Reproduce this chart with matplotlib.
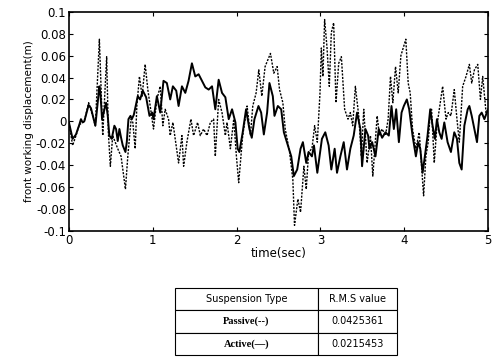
import numpy as np
import matplotlib
matplotlib.use("Agg")
import matplotlib.pyplot as plt

# time (sec) / displacement (m)
t_active = [0.0, 0.044, 0.084, 0.124, 0.143, 0.163, 0.183, 0.235, 0.263, 0.283, 0.315, 0.335,
            0.363, 0.375, 0.395, 0.423, 0.443, 0.463, 0.482, 0.510, 0.542, 0.562, 0.582, 0.602,
            0.622, 0.642, 0.674, 0.690, 0.710, 0.734, 0.750, 0.774, 0.821, 0.849, 0.881, 0.921,
            0.961, 0.993, 1.009, 1.049, 1.089, 1.128, 1.168, 1.208, 1.240, 1.280, 1.308, 1.348,
            1.388, 1.427, 1.467, 1.507, 1.547, 1.587, 1.627, 1.667, 1.707, 1.746, 1.786, 1.826,
            1.866, 1.906, 1.946, 1.986, 2.013, 2.033, 2.073, 2.113, 2.153, 2.181, 2.213, 2.261,
            2.293, 2.325, 2.364, 2.392, 2.432, 2.452, 2.492, 2.532, 2.564, 2.612, 2.652, 2.683,
            2.723, 2.763, 2.791, 2.831, 2.859, 2.899, 2.923, 2.963, 2.990, 3.018, 3.058, 3.098,
            3.130, 3.170, 3.198, 3.238, 3.278, 3.317, 3.357, 3.397, 3.437, 3.477, 3.497, 3.537,
            3.569, 3.585, 3.617, 3.657, 3.696, 3.736, 3.776, 3.816, 3.848, 3.876, 3.904, 3.936,
            3.968, 3.995, 4.031, 4.059, 4.099, 4.139, 4.167, 4.191, 4.219, 4.246, 4.278, 4.310,
            4.338, 4.366, 4.390, 4.418, 4.446, 4.478, 4.517, 4.557, 4.597, 4.629, 4.657, 4.685,
            4.717, 4.757, 4.777, 4.805, 4.837, 4.868, 4.896, 4.924, 4.956, 5.0]
x_active = [-0.001, -0.016, -0.012, -0.003, 0.002, -0.001, 0.000, 0.015, 0.012, 0.006, -0.004, 0.011,
            0.032, 0.026, 0.002, 0.011, 0.017, 0.005, -0.013, -0.016, -0.004, -0.007, -0.018, -0.007,
            -0.015, -0.022, -0.028, -0.019, 0.002, 0.005, 0.002, 0.006, 0.023, 0.020, 0.028, 0.022,
            0.005, 0.008, 0.002, 0.023, 0.008, 0.037, 0.035, 0.020, 0.032, 0.028, 0.014, 0.032,
            0.026, 0.037, 0.053, 0.041, 0.043, 0.037, 0.031, 0.029, 0.032, 0.011, 0.038, 0.026,
            0.022, 0.002, 0.011, -0.001, -0.025, -0.028, -0.010, 0.011, -0.007, -0.015, 0.002, 0.014,
            0.008, -0.012, 0.008, 0.035, 0.023, 0.005, 0.014, 0.011, -0.010, -0.022, -0.032, -0.050,
            -0.044, -0.025, -0.019, -0.038, -0.028, -0.032, -0.022, -0.047, -0.032, -0.016, -0.010, -0.022,
            -0.044, -0.025, -0.047, -0.032, -0.019, -0.044, -0.025, -0.013, 0.008, -0.007, -0.041, -0.007,
            -0.013, -0.025, -0.019, -0.032, -0.007, -0.015, -0.010, -0.013, 0.014, -0.007, 0.011, -0.019,
            0.008, 0.014, 0.020, 0.011, -0.013, -0.032, -0.019, -0.025, -0.047, -0.032, -0.013, 0.011,
            -0.004, -0.016, 0.002, -0.010, -0.016, -0.001, -0.019, -0.028, -0.010, -0.016, -0.038, -0.044,
            -0.004, 0.011, 0.014, 0.005, -0.007, -0.019, 0.005, 0.008, 0.002, 0.011]

t_passive = [0.0, 0.044, 0.084, 0.124, 0.183, 0.235, 0.283, 0.315, 0.363, 0.403, 0.450, 0.470,
             0.494, 0.522, 0.582, 0.622, 0.674, 0.702, 0.742, 0.762, 0.790, 0.810, 0.841, 0.873,
             0.909, 0.941, 0.969, 1.009, 1.049, 1.089, 1.120, 1.148, 1.188, 1.208, 1.240, 1.268,
             1.308, 1.348, 1.368, 1.407, 1.455, 1.487, 1.535, 1.567, 1.607, 1.647, 1.687, 1.726,
             1.746, 1.786, 1.826, 1.866, 1.886, 1.926, 1.966, 1.998, 2.025, 2.073, 2.125, 2.165,
             2.193, 2.233, 2.265, 2.301, 2.340, 2.372, 2.404, 2.444, 2.484, 2.512, 2.552, 2.580,
             2.632, 2.671, 2.691, 2.731, 2.763, 2.803, 2.831, 2.859, 2.899, 2.931, 2.963, 2.995,
             3.011, 3.030, 3.050, 3.078, 3.106, 3.130, 3.158, 3.186, 3.218, 3.250, 3.289, 3.329,
             3.357, 3.385, 3.417, 3.457, 3.489, 3.517, 3.557, 3.597, 3.625, 3.657, 3.677, 3.704,
             3.736, 3.776, 3.808, 3.836, 3.864, 3.896, 3.928, 3.960, 3.991, 4.019, 4.047, 4.071,
             4.099, 4.139, 4.179, 4.207, 4.231, 4.258, 4.286, 4.310, 4.326, 4.358, 4.390, 4.418,
             4.458, 4.498, 4.525, 4.557, 4.597, 4.629, 4.657, 4.697, 4.737, 4.777, 4.805, 4.837,
             4.877, 4.909, 4.936, 4.976, 5.0]
x_passive = [-0.001, -0.022, -0.013, -0.003, 0.000, 0.017, 0.005, -0.004, 0.075, -0.013, 0.059, -0.010,
             -0.041, -0.013, -0.025, -0.032, -0.062, -0.032, 0.002, -0.001, -0.025, 0.014, 0.041, 0.023,
             0.052, 0.029, 0.014, -0.007, 0.020, 0.032, -0.004, 0.011, 0.002, -0.013, -0.001, -0.016,
             -0.038, -0.013, -0.041, -0.019, 0.002, -0.013, -0.001, -0.013, -0.007, -0.013, -0.001, 0.002,
             -0.032, 0.020, 0.008, -0.013, -0.001, -0.025, 0.002, -0.032, -0.056, -0.013, 0.014, -0.013,
             0.014, 0.026, 0.047, 0.023, 0.050, 0.056, 0.062, 0.044, 0.050, 0.029, 0.017, -0.007,
             -0.028, -0.053, -0.095, -0.071, -0.083, -0.041, -0.062, -0.028, -0.025, -0.004, -0.019, 0.026,
             0.067, 0.041, 0.093, 0.068, 0.032, 0.081, 0.090, 0.017, 0.053, 0.059, 0.011, 0.002,
             0.008, -0.004, 0.032, 0.005, -0.032, 0.011, -0.038, -0.013, -0.050, -0.016, 0.005, -0.013,
             -0.007, -0.013, 0.002, 0.041, 0.017, 0.050, 0.026, 0.060, 0.068, 0.075, 0.035, 0.026,
             -0.007, -0.025, -0.010, -0.041, -0.068, -0.032, -0.019, 0.008, 0.011, -0.038, -0.004, 0.011,
             0.032, 0.002, 0.008, 0.005, 0.029, 0.002, -0.019, 0.032, 0.041, 0.052, 0.035, 0.047,
             0.052, 0.020, 0.041, 0.008, 0.011]

ytick_vals = [0.1, 0.08, 0.06, 0.04, 0.02, 0, -0.02, -0.04, -0.06, -0.08, -0.1]
ytick_labels = ["0.1", "0.08", "0.06", "0.04", "0.02", "0", "-0.02", "-0.04", "-0.06", "-0.08", "-0.1"]

table_rows = [["Suspension Type", "R.M.S value"],
              ["Passive(--)", "0.0425361"],
              ["Active(\u2014)", "0.0215453"]]

fig = plt.figure(figsize=(4.96, 3.59), dpi=100)
ax = fig.add_axes([0.139, 0.357, 0.845, 0.610])

ax.plot(t_passive, x_passive, color="black", lw=1.0, linestyle=(0, (1.5, 1.0)))
ax.plot(t_active, x_active, color="black", lw=1.4)

ax.set_xlim(0, 5)
ax.set_ylim(-0.1, 0.1)
ax.set_xticks([0, 1, 2, 3, 4, 5])
ax.set_yticks(ytick_vals)
ax.set_yticklabels(ytick_labels)
ax.tick_params(direction="in", top=True, right=True, length=3, labelsize=8.5, pad=2)
for s in ax.spines.values():
    s.set_linewidth(1.2)

ax.set_xlabel("time(sec)", fontsize=8.5, labelpad=0)
ax.set_ylabel("front working displacement(m)", fontsize=7.5, labelpad=1)

# rms table
tax = fig.add_axes([0.353, 0.011, 0.447, 0.187])
tax.axis("off")
tbl = tax.table(cellText=table_rows, cellLoc="center", colWidths=[0.644, 0.356],
                bbox=[0, 0, 1, 1])
tbl.auto_set_font_size(False)
for (r, c), cell in tbl.get_celld().items():
    cell.set_linewidth(0.8)
    txt = cell.get_text()
    txt.set_fontsize(7)
    if r > 0 and c == 0:
        txt.set_fontfamily("Liberation Serif")
        txt.set_fontweight("bold")
        txt.set_fontsize(7.5)

fig.savefig("out.png", dpi=100)
